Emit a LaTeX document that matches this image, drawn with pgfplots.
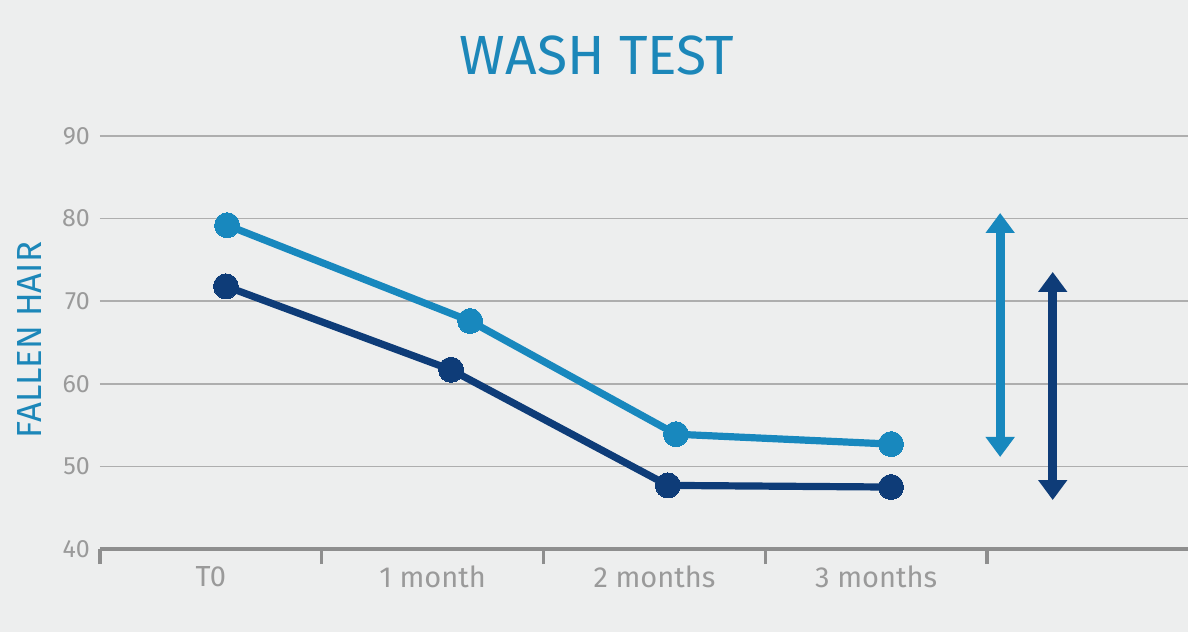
\documentclass[border=0pt]{standalone}
\usepackage{pgfplots}
\pgfplotsset{compat=1.18}
\usepackage{fontspec}
\setmainfont{Fira Sans}
\usetikzlibrary{arrows.meta}
\definecolor{bg}{HTML}{EDEEEE}
\definecolor{lightblue}{HTML}{1888BE}
\definecolor{navy}{HTML}{0E3C78}
\definecolor{titleblue}{HTML}{1C87B9}
\definecolor{axisgray}{HTML}{8E8E8E}
\definecolor{gridgray}{HTML}{AEAEAE}
\definecolor{labelgray}{HTML}{9A9A9A}
\begin{document}
\begin{tikzpicture}
\fill[bg] (-50pt,-41.5pt) rectangle (544pt,274.5pt);
\useasboundingbox (-50pt,-41.5pt) rectangle (544pt,274.5pt);
\begin{axis}[
  at={(0,0)}, anchor=south west,
  scale only axis, width=544pt, height=206.5pt,
  xmin=0, xmax=4.906, ymin=40, ymax=90,
  clip=false,
  axis lines=left,
  x axis line style={-, draw=axisgray, line width=1.7pt},
  y axis line style={draw=none},
  ytick={40,50,...,90},
  ymajorgrids, grid style={gridgray, line width=0.8pt},
  yticklabel style={font=\fontsize{12.5}{12.5}\selectfont, text=labelgray, xshift=6pt},
  ytick style={draw=none},
  /pgf/number format/assume math mode=true,
  xtick={0,1,2,3,4}, xticklabels={},
  xtick style={draw=axisgray, line width=1.7pt},
  tick align=outside,
  major tick length=7.5pt,
  extra x ticks={0.5,1.5,2.5,3.5},
  extra x tick labels={T0,1 month,2 months,3 months},
  extra x tick style={major tick length=0pt, xticklabel style={font=\fontsize{14.5}{14.5}\selectfont, text=labelgray, yshift=-5pt}},
]
\addplot[lightblue, line width=3.6pt, mark=*, mark size=6.25pt, mark options={fill=lightblue, draw=lightblue, line width=0pt}]
  coordinates {(0.573,79.2) (1.669,67.6) (2.597,53.9) (3.567,52.7)};
\addplot[navy, line width=3.6pt, mark=*, mark size=6.25pt, mark options={fill=navy, draw=navy, line width=0pt}]
  coordinates {(0.568,71.8) (1.583,61.7) (2.561,47.7) (3.567,47.5)};
\addplot[lightblue, line width=4.5pt, no markers, {Triangle[width=14pt,length=10pt]}-{Triangle[width=14pt,length=10pt]}]
  coordinates {(4.059,80.68) (4.059,51.14)};
\addplot[navy, line width=4.5pt, no markers, {Triangle[width=14pt,length=10pt]}-{Triangle[width=14pt,length=10pt]}]
  coordinates {(4.296,73.54) (4.296,45.93)};
\end{axis}
\node[text=titleblue, font=\fontsize{27.6}{27.6}\selectfont] at (248.5pt,247pt) {WASH TEST};
\node[text=titleblue, font=\fontsize{17.4}{17.4}\selectfont, rotate=90] at (-35pt,104.5pt) {FALLEN HAIR};
\end{tikzpicture}
\end{document}
